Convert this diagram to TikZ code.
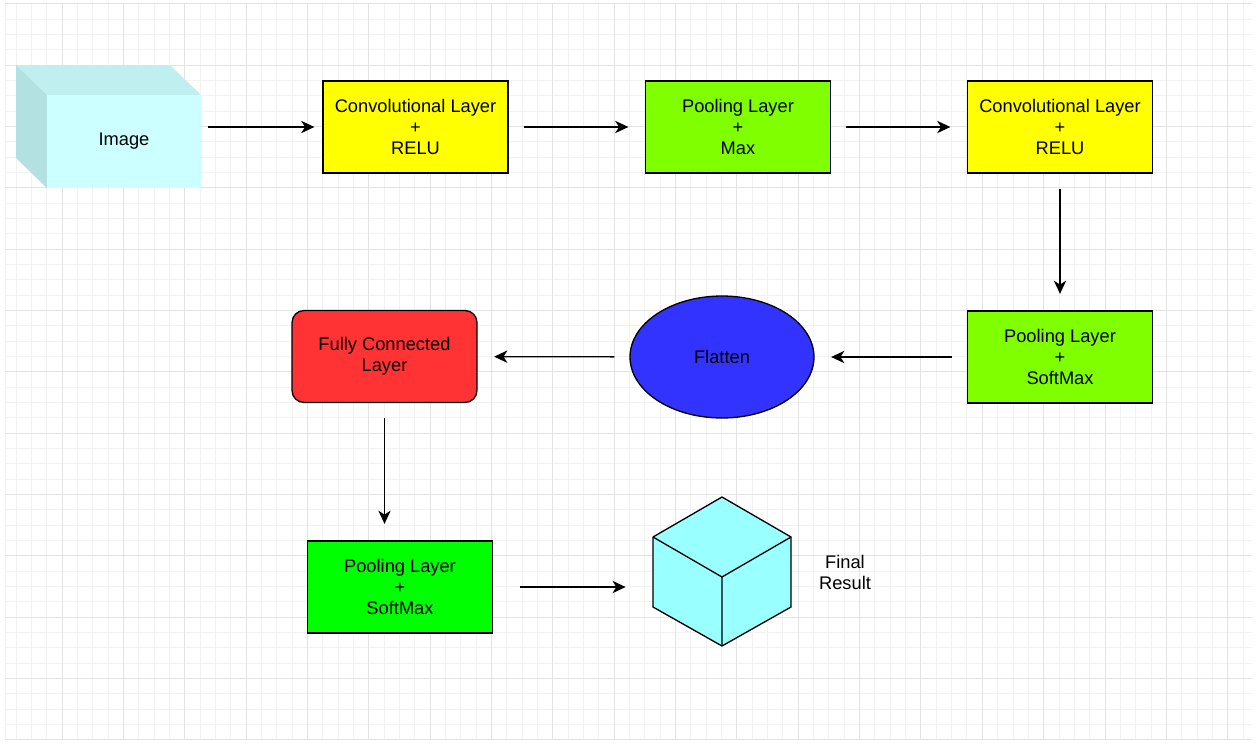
\documentclass[tikz,border=0pt]{standalone}
\usepackage{fontspec}
\setmainfont{Liberation Sans}
\usetikzlibrary{arrows.meta,shapes.geometric}
\definecolor{gridminor}{HTML}{F2F2F2}
\definecolor{gridmajor}{HTML}{E3E3E3}
\definecolor{convyellow}{HTML}{FFFF00}
\definecolor{poollime}{HTML}{80FF00}
\definecolor{poolgreen}{HTML}{00FF00}
\definecolor{fcred}{HTML}{FF3333}
\definecolor{flatblue}{HTML}{3333FF}
\definecolor{cubecyan}{HTML}{99FFFF}
\definecolor{imgfront}{HTML}{CCFFFF}
\definecolor{imgtop}{HTML}{BFEFEF}
\definecolor{imgside}{HTML}{B3E0E0}

\begin{document}
\begin{tikzpicture}[x=0.02cm,y=-0.02cm,
  every node/.style={font=\fontsize{10.4}{12.2}\selectfont, align=center},
  layer/.style={draw=black, line width=0.75pt, minimum width=3.7cm, minimum height=1.84cm, inner sep=0pt},
  flow/.style={-{Stealth[length=7.5pt,width=7pt,inset=2.2pt]}, line width=0.75pt, shorten <=0.3cm, shorten >=0.33cm}]
\fill [white] (0,0) rectangle (1257,744);
\useasboundingbox (0,0) rectangle (1257,744);
% grid
\draw [gridminor, line width=0.5pt] (5,4) -- (5,740);
\foreach \i in {1,...,81}
  \draw [gridminor, line width=0.5pt] ({0.65+15.3375*\i},4) -- ({0.65+15.3375*\i},740);
\foreach \j in {0,...,48}
  \draw [gridminor, line width=0.5pt] (5,{3.65+15.3375*\j}) -- (1252,{3.65+15.3375*\j});
\foreach \i in {4,8,...,80}
  \draw [gridmajor, line width=0.5pt] ({0.65+15.3375*\i},4) -- ({0.65+15.3375*\i},740);
\foreach \j in {0,4,...,48}
  \draw [gridmajor, line width=0.5pt] (5,{3.65+15.3375*\j}) -- (1252,{3.65+15.3375*\j});
% input image block
\fill [imgtop] (16,65) -- (170,65) -- (201,95) -- (47,95) -- cycle;
\fill [imgside] (16,65) -- (47,95) -- (47,188) -- (16,158) -- cycle;
\node [fill=imgfront, minimum width=3.08cm, minimum height=1.86cm, inner sep=0pt] (img) at (124,141.5) {Image};
% layers
\node [layer, fill=convyellow] (conv1) at (415.5,127) {Convolutional Layer\\+\\RELU};
\node [layer, fill=poollime] (pool1) at (738,127) {Pooling Layer\\+\\Max};
\node [layer, fill=convyellow] (conv2) at (1060,127) {Convolutional Layer\\+\\RELU};
\node [layer, fill=poollime] (pool2) at (1060,357) {Pooling Layer\\+\\SoftMax};
\node [ellipse, draw=black, line width=0.75pt, fill=flatblue, minimum width=3.68cm, minimum height=2.44cm, inner sep=0pt] (flat) at (722,357) {Flatten};
\node [layer, fill=fcred, rounded corners=0.24cm] (fc) at (384.5,356.5) {Fully Connected\\Layer};
\node [layer, fill=poolgreen] (pool3) at (400,587) {Pooling Layer\\+\\SoftMax};
% result cube
\filldraw [fill=cubecyan, line width=0.75pt, line join=round] (722,497) -- (791,537) -- (791,607) -- (722,646) -- (653,607) -- (653,537) -- cycle;
\draw [line width=0.75pt, line join=round] (653,537) -- (722,577) -- (791,537) (722,577) -- (722,646);
\node [minimum width=2.76cm, minimum height=2.98cm, inner sep=0pt] (cube) at (722,571.5) {};
\node (res) at (845,572.5) {Final\\Result};
% connectors
\draw [flow, shorten <=0.14cm, shorten >=0.16cm] (img.east |- conv1.west) -- (conv1.west);
\draw [flow] (conv1) -- (pool1);
\draw [flow] (pool1) -- (conv2);
\draw [flow] (conv2) -- (pool2);
\draw [flow] (pool2) -- (flat);
\draw [flow] (flat) -- (fc);
\draw [flow] (fc.south) -- (fc.south |- pool3.north);
\draw [flow, shorten <=0.54cm, shorten >=0.54cm] (pool3.east) -- (pool3.east -| cube.west);
\end{tikzpicture}
\end{document}
